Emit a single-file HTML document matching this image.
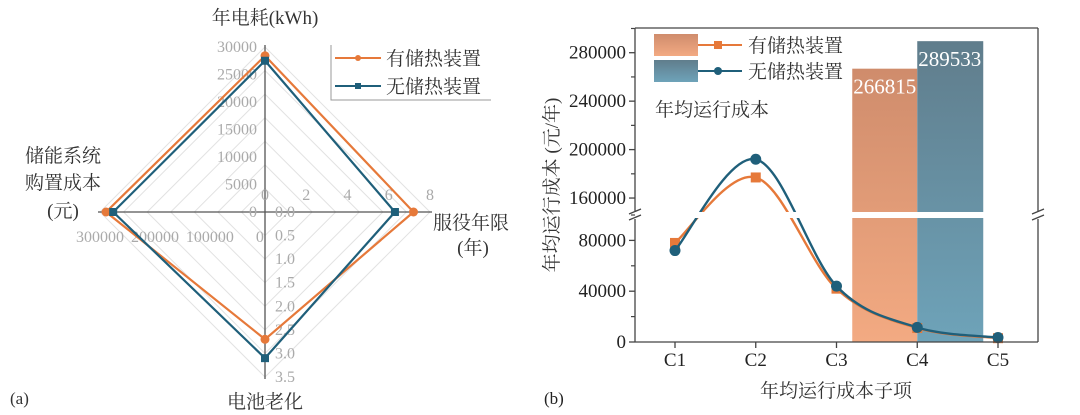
<!DOCTYPE html>
<html><head><meta charset="utf-8"><style>
body{margin:0;background:#fff;}
svg{display:block;font-family:"Liberation Serif","Noto Serif CJK SC","Noto Sans CJK SC",serif;}
.cj{font-family:"Liberation Serif","Noto Serif CJK SC","Noto Sans CJK SC",serif;}
</style></head><body>
<svg id="chart" width="1080" height="415" viewBox="0 0 1080 415" xmlns="http://www.w3.org/2000/svg">
<defs>
<linearGradient id="go" x1="0" y1="0" x2="0" y2="1"><stop offset="0" stop-color="#cf8c6c"/><stop offset="1" stop-color="#f3aa82"/></linearGradient>
<linearGradient id="gb" x1="0" y1="0" x2="0" y2="1"><stop offset="0" stop-color="#607d8c"/><stop offset="1" stop-color="#6ea3b9"/></linearGradient>
</defs>
<g id="radar"></g>
<g id="combo"></g>
</svg>
<script>
// ---- Radar data ----
const radarAxes = ["年电耗(kWh)","服役年限","电池老化","储能系统购置成本"];
const radarMax = [30000, 8, 3.5, 300000];
const radarWith = [28400, 7.2, 2.7, 289000];
const radarWithout = [27500, 6.3, 3.1, 276000];
const topTicks = ["30000","25000","20000","15000","10000","5000","0"];
const rightTicks = ["0","2","4","6","8"];
const bottomTicks = ["0.0","0.5","1.0","1.5","2.0","2.5","3.0","3.5"];
const leftTicks = ["300000","200000","100000","0"];
// ---- Cost chart data ----
const costCats = ["C1","C2","C3","C4","C5"];
const costWith = [78000, 177000, 42000, 11000, 3000];
const costWithout = [72000, 192000, 44000, 11500, 3500];
const totalWith = 266815;
const totalWithout = 289533;
const yTicksLow = [0, 40000, 80000];
const yTicksHigh = [160000, 200000, 240000, 280000];

const NS="http://www.w3.org/2000/svg";
function mk(p,tag,at,txt){const e=document.createElementNS(NS,tag);for(const k in at)e.setAttribute(k,at[k]);if(txt!=null)e.textContent=txt;p.appendChild(e);return e;}

// ===== Radar =====
const R=document.getElementById('radar');
const cx=265, cy=212, RR=165;
const dirs=[[0,-1],[1,0],[0,1],[-1,0]];
function rp(i,v){const r=v/radarMax[i]*RR;return [cx+dirs[i][0]*r, cy+dirs[i][1]*r];}
for(let k=1;k<=7;k++){const f=k/7*RR;
  const g=mk(R,'polygon',{points:`${cx},${cy-f} ${cx+f},${cy} ${cx},${cy+f} ${cx-f},${cy}`,fill:'none',stroke:'#e2e2e2','stroke-width':1});
  }
const ax=mk(R,'g',{});
mk(ax,'line',{x1:cx,y1:cy-RR-2,x2:cx,y2:cy+RR+2,stroke:'#555','stroke-width':1.3});
mk(ax,'line',{x1:cx-RR-2,y1:cy,x2:cx+RR+2,y2:cy,stroke:'#555','stroke-width':1.3});
const tk=mk(R,'g',{fill:'#aaa','font-size':16});
topTicks.forEach((t,i)=>{mk(tk,'text',{x:cx-8,y:cy-RR+i*(RR/6)+5,'text-anchor':'end'},t);});
rightTicks.forEach((t,i)=>{mk(tk,'text',{x:cx+i*(RR/4),y:cy-12,'text-anchor':'middle'},t);});
bottomTicks.forEach((t,i)=>{mk(tk,'text',{x:cx+10,y:cy+i*(RR/7)+5},t);});
leftTicks.forEach((t,i)=>{mk(tk,'text',{x:cx-RR+i*(RR*0.333)+(i==3?-5:0),y:cy+30,'text-anchor':'middle'},t);});
function radarSeries(vals,color,name,sq){
  const g=mk(R,'g',{});
  const pts=vals.map((v,i)=>rp(i,v));
  mk(g,'polygon',{points:pts.map(p=>p.join(',')).join(' '),fill:'none',stroke:color,'stroke-width':2.2});
  pts.forEach(p=>{const m=sq?mk(g,'rect',{x:p[0]-4,y:p[1]-4,width:8,height:8,fill:color}):mk(g,'circle',{cx:p[0],cy:p[1],r:4.5,fill:color});
    });
}
radarSeries(radarWith,'#e6793a','series-with-storage',false);
radarSeries(radarWithout,'#1f5f7a','series-without-storage',true);
const lab=mk(R,'g',{fill:'#333','font-size':19,class:'cj'});
mk(lab,'text',{x:cx,y:24,'text-anchor':'middle'},'年电耗(kWh)');
mk(lab,'text',{x:433,y:229},'服役年限');
mk(lab,'text',{x:473,y:254,'text-anchor':'middle'},'(年)');
mk(lab,'text',{x:63,y:162,'text-anchor':'middle'},'储能系统');
mk(lab,'text',{x:63,y:189,'text-anchor':'middle'},'购置成本');
mk(lab,'text',{x:63,y:217,'text-anchor':'middle'},'(元)');
mk(lab,'text',{x:265,y:408,'text-anchor':'middle'},'电池老化');
mk(lab,'text',{x:10,y:404,'font-size':17},'(a)');
const lg=mk(R,'g',{});
mk(lg,'polyline',{points:'331,45 331,100 491,100',fill:'none',stroke:'#999','stroke-width':1});
mk(lg,'line',{x1:335,y1:58,x2:381,y2:58,stroke:'#e6793a','stroke-width':2});
mk(lg,'circle',{cx:358,cy:58,r:3,fill:'#e6793a'});
mk(lg,'text',{x:386,y:65,'font-size':19,fill:'#333',class:'cj'},'有储热装置');
mk(lg,'line',{x1:335,y1:86,x2:381,y2:86,stroke:'#1f5f7a','stroke-width':2});
mk(lg,'rect',{x:355,y:83,width:6,height:6,fill:'#1f5f7a'});
mk(lg,'text',{x:386,y:93,'font-size':19,fill:'#333',class:'cj'},'无储热装置');

// ===== Cost chart =====
const C=document.getElementById('combo');
const L=635, Rt=1038, T=28, B=342, brk=215;
function xs(i){return 675+i*80.75;}
function ys(v){ if(v<=100000) return B-(v/100000)*(B-brk); return brk-(v-146000)/(300400-146000)*(brk-T); }
// bars
const bw=65, c4=xs(3);
const b1=mk(C,'rect',{x:c4-bw,y:ys(totalWith),width:bw,height:B-ys(totalWith),fill:'url(#go)'});

const b2=mk(C,'rect',{x:c4,y:ys(totalWithout),width:bw+1,height:B-ys(totalWithout),fill:'url(#gb)'});

const bl1=mk(C,'text',{x:c4-bw/2,y:ys(totalWith)+25,'text-anchor':'middle',fill:'#fff','font-size':21},String(totalWith));

const bl2=mk(C,'text',{x:c4+bw/2,y:ys(totalWithout)+25,'text-anchor':'middle',fill:'#fff','font-size':21},String(totalWithout));

// curves
function spline(pts){let d=`M${pts[0][0]},${pts[0][1]}`;for(let i=0;i<pts.length-1;i++){const p0=pts[i-1]||pts[i],p1=pts[i],p2=pts[i+1],p3=pts[i+2]||p2;
  d+=` C${p1[0]+(p2[0]-p0[0])/6},${p1[1]+(p2[1]-p0[1])/6} ${p2[0]-(p3[0]-p1[0])/6},${p2[1]-(p3[1]-p1[1])/6} ${p2[0]},${p2[1]}`;}return d;}
function series(vals,color,name,sq){
  const g=mk(C,'g',{});
  const pts=vals.map((v,i)=>[xs(i),ys(v)]);
  mk(g,'path',{d:spline(pts),fill:'none',stroke:color,'stroke-width':2.4});
  pts.forEach(p=>{const m=sq?mk(g,'rect',{x:p[0]-5,y:p[1]-5,width:10,height:10,fill:color}):mk(g,'circle',{cx:p[0],cy:p[1],r:5.5,fill:color});
    });
}
series(costWith,'#e6793a','line-with-storage',true);
series(costWithout,'#1f5f7a','line-without-storage',false);
// break band
const band=mk(C,'rect',{x:L+1,y:brk-3,width:Rt-L-2,height:6,fill:'#fff'});

// frame
const fr=mk(C,'g',{stroke:'#444','stroke-width':1.3,fill:'none'});
mk(fr,'line',{x1:L,y1:T,x2:Rt,y2:T});mk(fr,'line',{x1:L,y1:B,x2:Rt,y2:B});
mk(fr,'line',{x1:L,y1:T,x2:L,y2:brk-4});mk(fr,'line',{x1:L,y1:brk+4,x2:L,y2:B});
mk(fr,'line',{x1:Rt,y1:T,x2:Rt,y2:brk-4});mk(fr,'line',{x1:Rt,y1:brk+4,x2:Rt,y2:B});
[L,Rt].forEach(x=>{mk(fr,'line',{x1:x-6,y1:brk-1,x2:x+6,y2:brk-6});mk(fr,'line',{x1:x-6,y1:brk+5,x2:x+6,y2:brk});});
// y ticks
const yt=mk(C,'g',{fill:'#222','font-size':19});
yTicksLow.concat(yTicksHigh).forEach(v=>{const y=ys(v);mk(yt,'line',{x1:L-6,y1:y,x2:L,y2:y,stroke:'#444','stroke-width':1.3});
  mk(yt,'text',{x:L-9,y:y+6,'text-anchor':'end'},String(v));});
[20000,60000,180000,220000,260000,300000].forEach(v=>{const y=ys(v);if(y>=T)mk(yt,'line',{x1:L-4,y1:y,x2:L,y2:y,stroke:'#444','stroke-width':1.2});});
mk(yt,'line',{x1:L-4,y1:ys(100000)+0,x2:L,y2:ys(100000),stroke:'#444','stroke-width':1.2});
// x ticks
const xt=mk(C,'g',{fill:'#222','font-size':19});
costCats.forEach((c,i)=>{mk(xt,'line',{x1:xs(i),y1:B,x2:xs(i),y2:B+6,stroke:'#444','stroke-width':1.3});mk(xt,'text',{x:xs(i),y:B+24,'text-anchor':'middle'},c);});
// titles
const yT=mk(C,'text',{x:0,y:0,transform:'translate(558,185) rotate(-90)','text-anchor':'middle','font-size':19,fill:'#333',class:'cj'},'年均运行成本 (元/年)');

const xT=mk(C,'text',{x:836,y:397,'text-anchor':'middle','font-size':19,fill:'#333',class:'cj'},'年均运行成本子项');

const pb=mk(C,'text',{x:544,y:404,'font-size':17,fill:'#222'},'(b)');
const an=mk(C,'text',{x:655,y:116,'font-size':19,fill:'#333',class:'cj'},'年均运行成本');
// legend
const lg2=mk(C,'g',{});
mk(lg2,'rect',{x:654,y:34,width:44,height:22,fill:'url(#go)'});
mk(lg2,'line',{x1:698,y1:45,x2:742,y2:45,stroke:'#e6793a','stroke-width':2});
mk(lg2,'rect',{x:714,y:41,width:8,height:8,fill:'#e6793a'});
mk(lg2,'text',{x:748,y:52,'font-size':19,fill:'#333',class:'cj'},'有储热装置');
mk(lg2,'rect',{x:654,y:60,width:44,height:22,fill:'url(#gb)'});
mk(lg2,'line',{x1:698,y1:71,x2:742,y2:71,stroke:'#1f5f7a','stroke-width':2});
mk(lg2,'circle',{cx:718,cy:71,r:4,fill:'#1f5f7a'});
mk(lg2,'text',{x:748,y:78,'font-size':19,fill:'#333',class:'cj'},'无储热装置');
</script>
</body></html>
